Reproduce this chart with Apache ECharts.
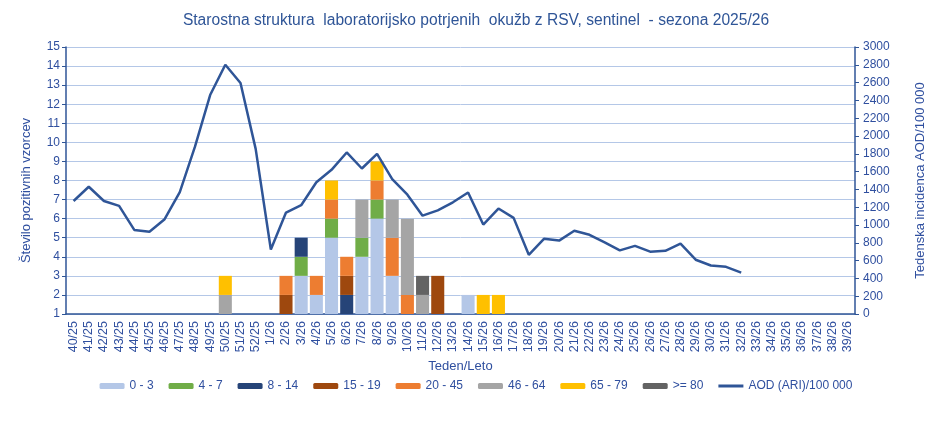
<!DOCTYPE html>
<html>
<head>
<meta charset="utf-8">
<script src="https://cdn.jsdelivr.net/npm/echarts@6/dist/echarts.min.js"></script>
<style>
    html, body { margin: 0; padding: 0; background: #fff; }
    #chart { width: 952px; height: 434px; }
</style>
</head>
<body>
<div id="chart"></div>
<script>
// tedni 40/25 .. 39/26
var weeks = [];
for (var w = 40; w <= 52; w++) weeks.push(w + '/25');
for (var w = 1; w <= 39; w++) weeks.push(w + '/26');

var groups = ['0 - 3', '4 - 7', '8 - 14', '15 - 19', '20 - 45', '46 - 64', '65 - 79', '>= 80'];
var colors = ['#B4C7E7', '#70AD47', '#264478', '#9E480E', '#ED7D31', '#A5A5A5', '#FFC000', '#636363'];

// stevilo pozitivnih vzorcev po tednih (index tedna -> vrednost)
var g0_3   = {15: 2, 16: 1, 17: 4, 19: 3, 20: 5, 21: 2, 26: 1};
var g4_7   = {15: 1, 17: 1, 19: 1, 20: 1};
var g8_14  = {15: 1, 18: 1};
var g15_19 = {14: 1, 18: 1, 24: 2};
var g20_45 = {14: 1, 16: 1, 17: 1, 18: 1, 20: 1, 21: 2, 22: 1};
var g46_64 = {10: 1, 19: 2, 21: 2, 22: 4, 23: 1};
var g65_79 = {10: 1, 17: 1, 20: 1, 27: 1, 28: 1};
var g80    = {23: 1};
var groupData = [g0_3, g4_7, g8_14, g15_19, g20_45, g46_64, g65_79, g80];

// AOD (ARI)/100 000
var aod = [1270, 1430, 1270, 1215, 945, 925, 1065, 1370, 1880, 2460, 2800, 2595, 1855,
           725, 1140, 1222, 1480, 1620, 1815, 1635, 1800, 1515, 1340, 1105, 1165, 1255,
           1365, 1005, 1185, 1080, 665, 845, 825, 935, 890, 805, 715, 765, 700, 710,
           790, 610, 545, 530, 465];

var textColor = '#2F4F9F';
var axisColor = '#2F5597';

function expand(obj) {
    var arr = [];
    for (var i = 0; i < weeks.length; i++) arr.push(obj[i] || 0);
    return arr;
}

var chart = echarts.init(document.getElementById('chart'));

var series = [{
    name: 'base',
    type: 'bar',
    stack: 'vz',
    silent: true,
    barCategoryGap: '14%',
    itemStyle: {color: 'rgba(0,0,0,0)'},
    data: weeks.map(function () { return 1; })
}];
for (var g = 0; g < groups.length; g++) {
    series.push({
        name: groups[g],
        type: 'bar',
        stack: 'vz',
        barCategoryGap: '14%',
        itemStyle: {color: colors[g]},
        data: expand(groupData[g])
    });
}
series.push({
    name: 'AOD (ARI)/100 000',
    type: 'line',
    yAxisIndex: 1,
    symbol: 'none',
    lineStyle: {color: axisColor, width: 2.5},
    itemStyle: {color: axisColor},
    data: aod
});

var legendData = groups.slice();
legendData.push({name: 'AOD (ARI)/100 000', icon: 'path://M0,0 L25,0 L25,3 L0,3 Z'});

var option = {
    animation: false,
    textStyle: {fontFamily: 'Liberation Sans, Arial, sans-serif'},
    title: {
        text: 'Starostna struktura  laboratorijsko potrjenih  okužb z RSV, sentinel  - sezona 2025/26',
        left: 'center',
        top: 8,
        textStyle: {fontSize: 15.6, fontWeight: 'normal', color: axisColor}
    },
    legend: {
        data: legendData,
        bottom: 37,
        left: 'center',
        itemWidth: 25,
        itemHeight: 6,
        itemGap: 15,
        textStyle: {fontSize: 12, color: textColor}
    },
    grid: {left: 66, right: 97, top: 47, bottom: 120},
    xAxis: {
        type: 'category',
        data: weeks,
        name: 'Teden/Leto',
        nameLocation: 'middle',
        nameGap: 46,
        nameTextStyle: {fontSize: 13, color: textColor},
        axisLine: {lineStyle: {color: axisColor, width: 1.5}},
        axisTick: {length: 5, lineStyle: {color: axisColor}},
        axisLabel: {rotate: 90, interval: 0, fontSize: 12.5, color: textColor, margin: 7}
    },
    yAxis: [{
        type: 'value',
        min: 1,
        max: 15,
        interval: 1,
        name: 'Število pozitivnih vzorcev',
        nameLocation: 'middle',
        nameGap: 33,
        nameTextStyle: {fontSize: 13, color: textColor, padding: [0, 20, 0, 0]},
        axisLine: {show: true, lineStyle: {color: axisColor, width: 1.5}},
        axisTick: {show: true, length: 4, lineStyle: {color: axisColor}},
        axisLabel: {fontSize: 12, color: textColor, margin: 6},
        splitLine: {lineStyle: {color: '#B4C7E7', width: 1}}
    }, {
        type: 'value',
        min: 0,
        max: 3000,
        interval: 200,
        name: 'Tedenska incidenca AOD/100 000',
        nameLocation: 'middle',
        nameGap: 59,
        nameTextStyle: {fontSize: 13, color: textColor},
        axisLine: {show: true, lineStyle: {color: axisColor, width: 1.5}},
        axisTick: {show: true, length: 4, lineStyle: {color: axisColor}},
        axisLabel: {fontSize: 12, color: textColor, margin: 8, formatter: function (v) { return String(v); }},
        splitLine: {show: false}
    }],
    series: series
};
chart.setOption(option);
</script>
</body>
</html>
